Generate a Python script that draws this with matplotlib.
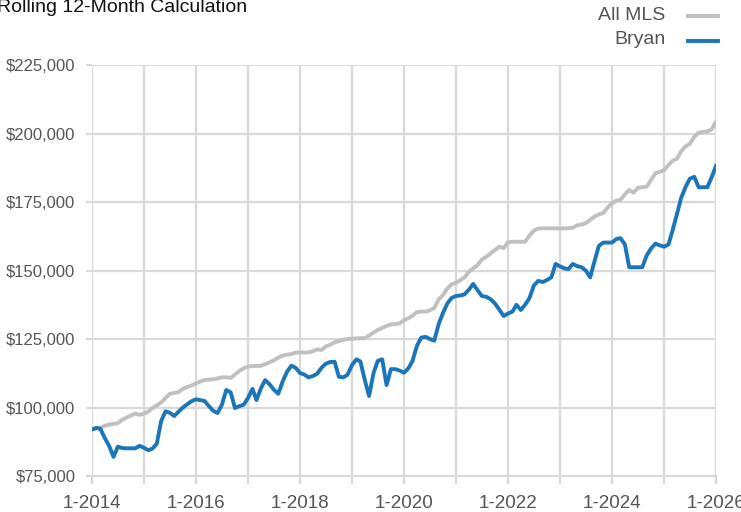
import pandas as pd
import matplotlib
matplotlib.use("Agg")
import matplotlib.pyplot as plt
import matplotlib.dates as mdates
from matplotlib.lines import Line2D
from matplotlib.ticker import FuncFormatter

plt.rcParams["font.family"] = ["Liberation Sans", "DejaVu Sans"]

# monthly rolling 12-month values, Jan 2014 .. Jan 2026
months = pd.date_range("2014-01-01", periods=145, freq="MS")

all_mls = [
    92000, 92300, 92700, 93300, 93800, 94000, 94300, 95500, 96300, 97100, 97800, 97300,
    97800, 98500, 99800, 100800, 101800, 103500, 105000, 105300, 105600, 106800, 107500, 108000,
    108800, 109500, 110000, 110200, 110300, 110600, 111000, 111000, 110800, 112000, 113400, 114300,
    115000, 115100, 115200, 115200, 115800, 116500, 117200, 118200, 118900, 119300, 119500, 120000,
    120100, 120100, 120100, 120500, 121200, 121000, 122300, 122900, 123800, 124200, 124700, 125000,
    125100, 125200, 125300, 125300, 126300, 127300, 128300, 129000, 129800, 130300, 130500, 130700,
    131800, 132600, 133500, 134800, 135000, 135000, 135500, 136300, 139500, 141000, 143500, 145000,
    145500, 146500, 147500, 149500, 150800, 152000, 154000, 155000, 156300, 157500, 158700, 158200,
    160300, 160500, 160500, 160500, 160500, 162800, 164500, 165300, 165400, 165400, 165400, 165400,
    165400, 165400, 165400, 165600, 166500, 166800, 167300, 168500, 169700, 170500, 171000, 173000,
    174500, 175500, 175800, 177800, 179400, 178400, 180200, 180400, 180600, 183000, 185500, 186000,
    186600, 188500, 190000, 190800, 193500, 195300, 196200, 198800, 200300, 200600, 200800, 201500,
    204300,
]

bryan = [
    92000, 92600, 92200, 88800, 86000, 82000, 85700, 85200, 85100, 85100, 85100, 86000,
    85300, 84400, 85000, 86800, 95000, 98600, 98100, 96900, 98500, 100000, 101200, 102300,
    103000, 102700, 102400, 100500, 98800, 98000, 101000, 106400, 105500, 99800, 100500, 101000,
    103500, 106800, 102700, 107000, 110000, 108500, 106500, 105000, 109500, 113000, 115300, 114500,
    112600, 112000, 111000, 111500, 112300, 114500, 116000, 116600, 116700, 111200, 111000, 112000,
    115500, 117600, 116800, 110000, 104200, 112500, 117000, 117600, 108200, 114000, 114000, 113500,
    112700, 114300, 117000, 122500, 125500, 125800, 125000, 124400, 130500, 134500, 138000, 140000,
    140700, 140900, 141300, 143000, 145100, 142800, 140700, 140400, 139500, 138000, 135700, 133400,
    134300, 135000, 137500, 135600, 137500, 140000, 144500, 146200, 145800, 146500, 147500, 152400,
    151500, 150800, 150500, 152400, 151600, 151200, 150000, 147500, 153500, 159000, 160200, 160200,
    160200, 161500, 161800, 159500, 151200, 151200, 151200, 151200, 155500, 158000, 159800, 159200,
    158700, 159500, 164500, 170500, 176500, 180500, 183500, 184200, 180400, 180400, 180400, 184000,
    188200,
]

y_ticks = [75000, 100000, 125000, 150000, 175000, 200000, 225000]

fig = plt.figure(figsize=(7.41, 5.12), dpi=100)
ax = fig.add_axes([0.1242, 0.0703, 0.8421, 0.8027])

grid_c = "#d9d9d9"
ax.plot(months, all_mls, color="#c0c0c0", lw=2.8, solid_joinstyle="round", zorder=3)
ax.plot(months, bryan, color="#1b75bb", lw=2.8, solid_joinstyle="round", zorder=4)

ax.set_ylim(75000, 225000)
ax.set_xlim(months[0], months[-1])
ax.set_yticks(y_ticks)
ax.yaxis.set_major_formatter(FuncFormatter(lambda v, p: f"${v:,.0f}"))

ax.xaxis.set_major_locator(mdates.YearLocator(1))
ax.xaxis.set_major_formatter(FuncFormatter(
    lambda v, p: f"1-{mdates.num2date(v).year}" if mdates.num2date(v).year % 2 == 0 else ""))

ax.grid(True, color=grid_c, lw=1.6, zorder=0)
for s in ax.spines.values():
    s.set_visible(False)
ax.spines["bottom"].set_visible(True)
ax.spines["bottom"].set_color(grid_c)
ax.spines["bottom"].set_linewidth(1.6)

ax.tick_params(axis="x", length=6, width=1.6, color=grid_c, labelcolor="#555555",
               labelsize=13.5, pad=8)
ax.tick_params(axis="y", length=4, width=1.6, color=grid_c, labelcolor="#555555",
               labelsize=12, pad=8)

fig.text(-0.004, 0.985, "Rolling 12-Month Calculation", fontsize=14, color="#111111",
         ha="left", va="center")

# legend in the top-right corner
fig.text(0.898, 0.97, "All MLS", fontsize=14, color="#555555", ha="right", va="center")
fig.text(0.898, 0.922, "Bryan", fontsize=14, color="#555555", ha="right", va="center")
fig.add_artist(Line2D([0.928, 0.969], [0.968, 0.968], color="#c0c0c0", lw=2.8,
                      transform=fig.transFigure))
fig.add_artist(Line2D([0.928, 0.969], [0.920, 0.920], color="#1b75bb", lw=2.8,
                      transform=fig.transFigure))

fig.savefig("out.png", dpi=100)
